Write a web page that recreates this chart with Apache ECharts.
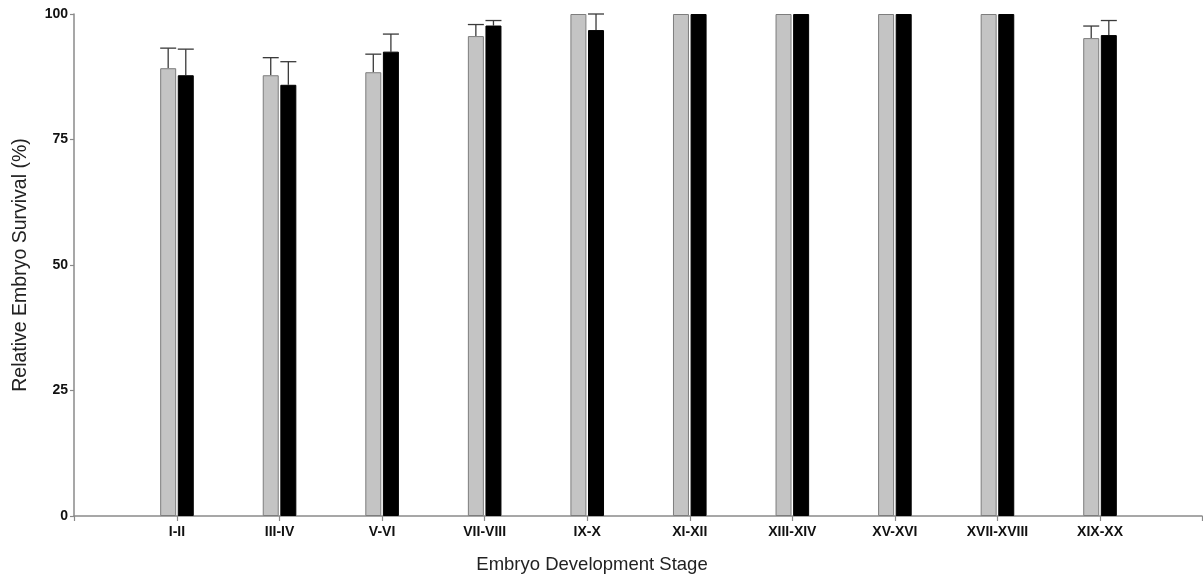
<!DOCTYPE html>
<html>
<head>
<meta charset="utf-8">
<script src="https://cdn.jsdelivr.net/npm/echarts@6/dist/echarts.min.js"></script>
<style>
html,body{margin:0;padding:0;background:#fff;}
#chart{width:1203px;height:576px;}
</style>
</head>
<body>
<div id="chart"></div>
<script>
var categories = ['I-II','III-IV','V-VI','VII-VIII','IX-X','XI-XII','XIII-XIV','XV-XVI','XVII-XVIII','XIX-XX'];
var greyValues = [89.2, 87.8, 88.4, 95.6, 100, 100, 100, 100, 100, 95.2];
var greyErrors = [4.0, 3.5, 3.6, 2.3, 0, 0, 0, 0, 0, 2.4];
var blackValues = [87.8, 85.9, 92.5, 97.7, 96.8, 100, 100, 100, 100, 95.8];
var blackErrors = [5.2, 4.6, 3.5, 1.0, 3.2, 0, 0, 0, 0, 2.9];
var yTicks = [0, 25, 50, 75, 100];

var BAR_W = 16;
var BAR_OFF = 8.8;

function errData(vals, errs) {
  var out = [];
  for (var i = 0; i < vals.length; i++) {
    if (errs[i] > 0) out.push([i, vals[i] + errs[i], vals[i]]);
  }
  return out;
}

function makeErrRender(offset) {
  return function (params, api) {
    var i = api.value(0);
    var top = api.coord([i, api.value(1)]);
    var base = api.coord([i, api.value(2)]);
    var x = top[0] + offset;
    var half = BAR_W / 2;
    var style = { stroke: '#3a3a3a', lineWidth: 1.3 };
    return {
      type: 'group',
      children: [
        { type: 'line', shape: { x1: x, y1: base[1], x2: x, y2: top[1] }, style: style },
        { type: 'line', shape: { x1: x - half, y1: top[1], x2: x + half, y2: top[1] }, style: style }
      ]
    };
  };
}

var chart = echarts.init(document.getElementById('chart'));
var font = 'Liberation Sans, Arial, sans-serif';

chart.setOption({
  backgroundColor: '#fff',
  animation: false,
  grid: [
    { left: 74, right: 1, top: 14, bottom: 60, containLabel: false, outerBoundsMode: 'none' },
    { left: 125.7, right: 51.7, top: 14, bottom: 60, containLabel: false, outerBoundsMode: 'none' }
  ],
  xAxis: [
    {
      gridIndex: 0, type: 'value', min: 0, max: 1, interval: 1,
      axisLine: { show: true, lineStyle: { color: '#8a8a8a', width: 1.5 } },
      axisTick: { show: true, length: 5, lineStyle: { color: '#8a8a8a', width: 1.2 } },
      axisLabel: { show: false },
      splitLine: { show: false }
    },
    {
      gridIndex: 1, type: 'category', data: categories,
      axisLine: { show: false },
      axisTick: { show: true, alignWithLabel: true, length: 5, lineStyle: { color: '#8a8a8a', width: 1.2 } },
      axisLabel: { color: '#111', fontFamily: font, fontSize: 14, fontWeight: 'bold', margin: 9 },
      splitLine: { show: false }
    }
  ],
  yAxis: [
    {
      gridIndex: 0, type: 'value', min: yTicks[0], max: yTicks[yTicks.length - 1], interval: 25,
      name: 'Relative Embryo Survival (%)', nameLocation: 'middle', nameGap: 43,
      nameTextStyle: { color: '#222', fontFamily: font, fontSize: 19.5 },
      axisLine: { show: true, lineStyle: { color: '#8a8a8a', width: 1.5 } },
      axisTick: { show: true, length: 4, lineStyle: { color: '#8a8a8a', width: 1.2 } },
      axisLabel: { color: '#111', fontFamily: font, fontSize: 14, fontWeight: 'bold', margin: 6 },
      splitLine: { show: false }
    },
    {
      gridIndex: 1, type: 'value', min: 0, max: 100, show: false, splitLine: { show: false }
    }
  ],
  graphic: [
    {
      type: 'text', x: 592, y: 565,
      style: { text: 'Embryo Development Stage', fill: '#222', font: '18.5px ' + font, textAlign: 'center', textVerticalAlign: 'middle' }
    }
  ],
  series: [
    {
      type: 'bar', xAxisIndex: 1, yAxisIndex: 1, data: greyValues,
      barWidth: BAR_W, barGap: '10%',
      itemStyle: { color: '#c4c4c4', borderColor: '#7d7d7d', borderWidth: 1 }
    },
    {
      type: 'bar', xAxisIndex: 1, yAxisIndex: 1, data: blackValues,
      barWidth: BAR_W, barGap: '10%',
      itemStyle: { color: '#000', borderColor: '#000', borderWidth: 1 }
    },
    {
      type: 'custom', xAxisIndex: 1, yAxisIndex: 1, z: 1,
      data: errData(greyValues, greyErrors),
      renderItem: makeErrRender(-BAR_OFF)
    },
    {
      type: 'custom', xAxisIndex: 1, yAxisIndex: 1, z: 1,
      data: errData(blackValues, blackErrors),
      renderItem: makeErrRender(BAR_OFF)
    }
  ]
});
</script>
</body>
</html>
